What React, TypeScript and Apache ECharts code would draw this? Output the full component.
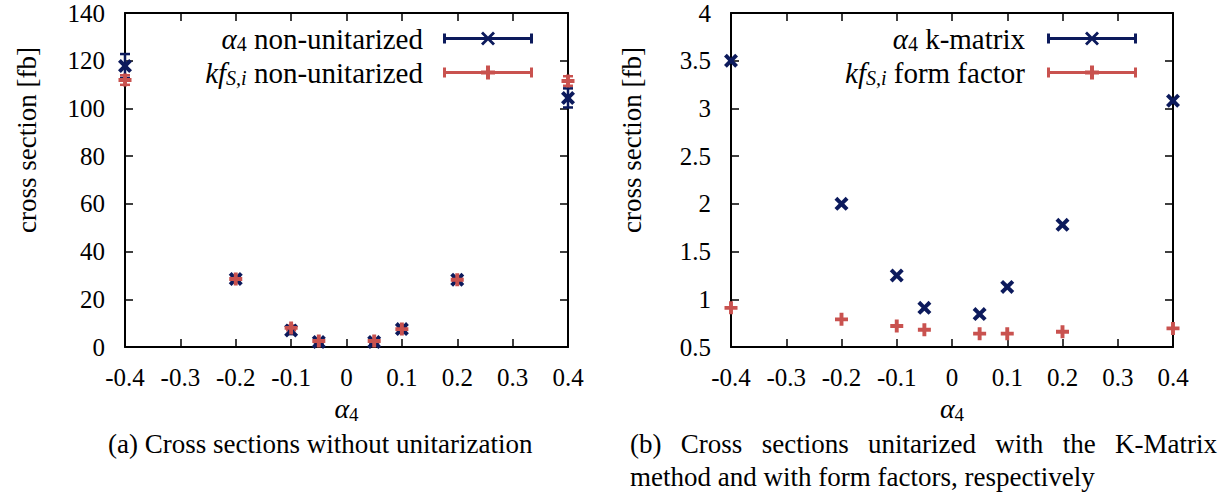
import React, { useEffect, useRef } from "react";
import * as echarts from "echarts";

// ---- data ----
const alpha4Points = [-0.4, -0.2, -0.1, -0.05, 0.05, 0.1, 0.2, 0.4];
const nonUnitAlpha = [117.8, 28.5, 6.9, 2.1, 2.1, 7.5, 28.2, 104.4];
const nonUnitAlphaErr = [5, 1, 1.5, 0.8, 0.8, 1.5, 1, 4];
const nonUnitKf = [111.9, 28.5, 8.0, 2.5, 2.5, 7.5, 28.2, 111.5];
const nonUnitKfErr = [2, 1, 1, 0.5, 0.5, 1, 1, 2];
const kMatrixAlpha = [3.5, 2.0, 1.25, 0.91, 0.845, 1.13, 1.78, 3.08];
const formFactorKf = [0.91, 0.79, 0.72, 0.68, 0.64, 0.64, 0.66, 0.695];

const seriesNames = {
  aNon: "α4 non-unitarized",
  kNon: "kfS,i non-unitarized",
  aK: "α4 k-matrix",
  kFF: "kfS,i form factor",
};
const legendRich: Record<string, string> = {
  [seriesNames.aNon]: "{m|α}{s|4}{t| non-unitarized}",
  [seriesNames.kNon]: "{m|kf}{si|S,i}{t| non-unitarized}",
  [seriesNames.aK]: "{m|α}{s|4}{t| k-matrix}",
  [seriesNames.kFF]: "{m|kf}{si|S,i}{t| form factor}",
};
const captionA = "(a) Cross sections without unitarization";
const captionB1 = "(b) Cross sections unitarized with the K-Matrix";
const captionB2 = "method and with form factors, respectively";
const yTitle = "cross section [fb]";

const BLUE = "#0c1a5c";
const RED = "#c9524f";
const FONT = "'Liberation Serif', serif";

const X_PATH = "path://M0,2 L2,0 L5,3 L8,0 L10,2 L7,5 L10,8 L8,10 L5,7 L2,10 L0,8 L3,5 Z";
const PLUS_PATH = "path://M3.5,0 H6.5 V3.5 H10 V6.5 H6.5 V10 H3.5 V6.5 H0 V3.5 H3.5 Z";
const BAR = "M0,5.6 H90 V8.4 H0 Z M0,2 H3 V12 H0 Z M87,2 H90 V12 H87 Z ";
const LEG_X = "path://" + BAR + "M38,2 L40,0 L45,5 L50,0 L52,2 L47,7 L52,12 L50,14 L45,9 L40,14 L38,12 L43,7 Z";
const LEG_PLUS = "path://" + BAR + "M43,0 H47 V5 H52 V9 H47 V14 H43 V9 H38 V5 H43 Z";

const fmt = (v: number, step: number) => {
  const r = Math.round(v / step) * step;
  const s = Number(r.toFixed(2));
  return s === 0 ? "0" : String(s);
};

function makeX(gridIndex: number) {
  const common = {
    type: "value" as const,
    gridIndex,
    min: -0.4,
    max: 0.4,
    interval: 0.1,
    splitLine: { show: false },
    axisLine: { show: true, onZero: false, lineStyle: { color: "#000", width: 2 } },
    axisTick: { show: true, inside: true, length: 8, lineStyle: { color: "#000", width: 1.5 } },
  };
  return [
    {
      ...common,
      position: "bottom",
      axisLabel: { fontFamily: FONT, fontSize: 25, color: "#000", margin: 18, formatter: (v: number) => fmt(v, 0.1) },
      name: "{m|α}{s|4}",
      nameLocation: "middle",
      nameGap: 44,
      nameTextStyle: {
        rich: {
          m: { fontFamily: FONT, fontStyle: "italic", fontSize: 28, color: "#000" },
          s: { fontFamily: FONT, fontSize: 19, color: "#000", padding: [12, 0, 0, 0] },
        },
      },
    },
    { ...common, position: "top", axisLabel: { show: false } },
  ];
}

function makeY(gridIndex: number, min: number, max: number, interval: number) {
  const common = {
    type: "value" as const,
    gridIndex,
    min,
    max,
    interval,
    splitLine: { show: false },
    axisLine: { show: true, onZero: false, lineStyle: { color: "#000", width: 2 } },
    axisTick: { show: true, inside: true, length: 8, lineStyle: { color: "#000", width: 1.5 } },
  };
  return [
    {
      ...common,
      position: "left",
      axisLabel: { fontFamily: FONT, fontSize: 25, color: "#000", margin: 20, formatter: (v: number) => fmt(v, interval) },
    },
    { ...common, position: "right", axisLabel: { show: false } },
  ];
}

function errSeries(name: string, xi: number, yi: number, ys: number[], es: number[], color: string) {
  return {
    type: "custom",
    name,
    xAxisIndex: xi,
    yAxisIndex: yi,
    clip: false,
    itemStyle: { color },
    encode: { x: 0, y: 1 },
    data: alpha4Points.map((x, i) => [x, ys[i], es[i]]),
    renderItem: (_p: any, api: any) => {
      const x = api.value(0);
      const y = api.value(1);
      const e = api.value(2);
      const t = api.coord([x, y + e]);
      const b = api.coord([x, y - e]);
      const hw = 5;
      const style = { stroke: color, lineWidth: 2.5, fill: "none" };
      return {
        type: "group",
        children: [
          { type: "line", shape: { x1: t[0], y1: t[1], x2: b[0], y2: b[1] }, style },
          { type: "line", shape: { x1: t[0] - hw, y1: t[1], x2: t[0] + hw, y2: t[1] }, style },
          { type: "line", shape: { x1: b[0] - hw, y1: b[1], x2: b[0] + hw, y2: b[1] }, style },
        ],
      };
    },
  };
}

function scatter(name: string, xi: number, yi: number, ys: number[], color: string, sym: string, size: number) {
  return {
    type: "scatter",
    name,
    xAxisIndex: xi,
    yAxisIndex: yi,
    clip: false,
    symbol: sym,
    symbolSize: size,
    itemStyle: { color, opacity: 1 },
    emphasis: { disabled: true },
    data: alpha4Points.map((x, i) => [x, ys[i]]),
  };
}

const legendTextRich = (gap: number) => ({
  m: { fontFamily: FONT, fontStyle: "italic", fontSize: 29, lineHeight: 28, color: "#000" },
  s: { fontFamily: FONT, fontSize: 20, lineHeight: 17, color: "#000", padding: [11, 0, 0, 0] },
  si: { fontFamily: FONT, fontStyle: "italic", fontSize: 20, lineHeight: 17, color: "#000", padding: [11, 0, 0, 0] },
  t: { fontFamily: FONT, fontSize: 29, lineHeight: 28, color: "#000", padding: [0, gap, 0, 0] },
});

function legend(name: string, right: number, top: number, icon: string, gap: number) {
  return {
    data: [name],
    right,
    top,
    padding: 0,
    orient: "vertical",
    align: "right",
    icon,
    itemWidth: 90,
    itemHeight: 14,
    selectedMode: false,
    formatter: (n: string) => legendRich[n] || n,
    textStyle: { rich: legendTextRich(gap) },
  };
}

function measure(text: string, font: string) {
  const c = document.createElement("canvas").getContext("2d");
  if (!c) return text.length * 10;
  c.font = font;
  return c.measureText(text).width;
}

function justified(text: string, x0: number, x1: number, y: number, size: number) {
  const words = text.split(" ");
  const font = `${size}px 'Liberation Serif', serif`;
  const widths = words.map((w) => measure(w, font));
  const total = widths.reduce((a, b) => a + b, 0);
  const gap = (x1 - x0 - total) / (words.length - 1);
  let x = x0;
  return words.map((w, i) => {
    const el = {
      type: "text",
      x,
      y,
      style: { text: w, fontFamily: FONT, fontSize: size, fill: "#000", align: "left", verticalAlign: "middle" },
    };
    x += widths[i] + gap;
    return el;
  });
}

export default function App() {
  const ref = useRef<HTMLDivElement>(null);
  useEffect(() => {
    if (!ref.current) return;
    const chart = echarts.init(ref.current, undefined, { renderer: "svg" });
    const capSize = 27;
    chart.setOption({
      animation: false,
      backgroundColor: "#fff",
      grid: [
        { left: 125, top: 13, width: 443, height: 334 },
        { left: 731, top: 13, width: 442, height: 334 },
      ],
      xAxis: [...makeX(0), ...makeX(1)],
      yAxis: [...makeY(0, 0, 140, 20), ...makeY(1, 0.5, 4, 0.5)],
      legend: [
        legend(seriesNames.aNon, 696, 23, LEG_X, 15),
        legend(seriesNames.kNon, 696, 57, LEG_PLUS, 15),
        legend(seriesNames.aK, 92, 23, LEG_X, 17),
        legend(seriesNames.kFF, 92, 57, LEG_PLUS, 17),
      ],
      series: [
        scatter(seriesNames.aNon, 0, 0, nonUnitAlpha, BLUE, X_PATH, 14),
        errSeries(seriesNames.aNon, 0, 0, nonUnitAlpha, nonUnitAlphaErr, BLUE),
        errSeries(seriesNames.kNon, 0, 0, nonUnitKf, nonUnitKfErr, RED),
        scatter(seriesNames.kNon, 0, 0, nonUnitKf, RED, PLUS_PATH, 13),
        scatter(seriesNames.aK, 2, 2, kMatrixAlpha, BLUE, X_PATH, 14),
        scatter(seriesNames.kFF, 2, 2, formFactorKf, RED, PLUS_PATH, 13),
      ],
      graphic: [
        {
          type: "text",
          x: 27,
          y: 140,
          rotation: Math.PI / 2,
          style: { text: yTitle, fontFamily: FONT, fontSize: 27, fill: "#000", align: "center", verticalAlign: "middle" },
        },
        {
          type: "text",
          x: 632,
          y: 140,
          rotation: Math.PI / 2,
          style: { text: yTitle, fontFamily: FONT, fontSize: 27, fill: "#000", align: "center", verticalAlign: "middle" },
        },
        {
          type: "text",
          x: 108,
          y: 444,
          style: { text: captionA, fontFamily: FONT, fontSize: capSize, fill: "#000", align: "left", verticalAlign: "middle" },
        },
        ...justified(captionB1, 630, 1217, 444, capSize),
        {
          type: "text",
          x: 630,
          y: 477,
          style: { text: captionB2, fontFamily: FONT, fontSize: capSize, fill: "#000", align: "left", verticalAlign: "middle" },
        },
      ],
    });
    return () => chart.dispose();
  }, []);
  return <div ref={ref} style={{ position: "absolute", left: 0, top: 0, width: 1229, height: 495 }} />;
}
